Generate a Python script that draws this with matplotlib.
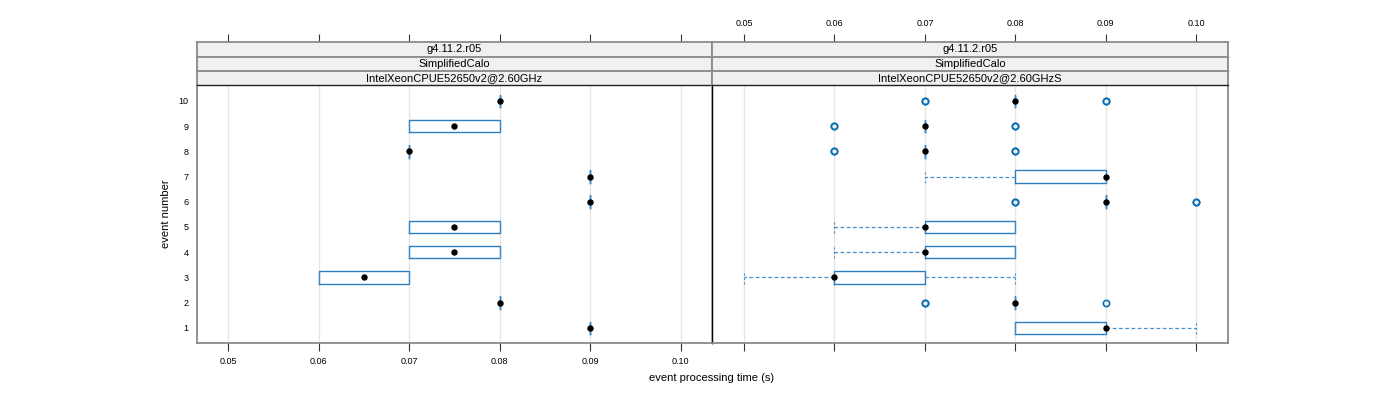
import matplotlib
matplotlib.use("Agg")
import matplotlib.pyplot as plt

plt.rcParams["font.family"] = ["Liberation Sans", "DejaVu Sans"]

# ---------------------------------------------------------------------------
# Data: per-event box statistics (events 1..10)
# ---------------------------------------------------------------------------
events = [1, 2, 3, 4, 5, 6, 7, 8, 9, 10]
strip_labels = ["g4.11.2.r05", "SimplifiedCalo"]
cpu_left = "IntelXeonCPUE52650v2@2.60GHz"
cpu_right = "IntelXeonCPUE52650v2@2.60GHzS"

# left panel
q1_left = [0.09, 0.08, 0.06, 0.07, 0.07, 0.09, 0.09, 0.07, 0.07, 0.08]
med_left = [0.09, 0.08, 0.065, 0.075, 0.075, 0.09, 0.09, 0.07, 0.075, 0.08]
q3_left = [0.09, 0.08, 0.07, 0.08, 0.08, 0.09, 0.09, 0.07, 0.08, 0.08]
lo_left = [0.09, 0.08, 0.06, 0.07, 0.07, 0.09, 0.09, 0.07, 0.07, 0.08]
hi_left = [0.09, 0.08, 0.07, 0.08, 0.08, 0.09, 0.09, 0.07, 0.08, 0.08]
out_left = [[], [], [], [], [], [], [], [], [], []]

# right panel
q1_right = [0.08, 0.08, 0.06, 0.07, 0.07, 0.09, 0.08, 0.07, 0.07, 0.08]
med_right = [0.09, 0.08, 0.06, 0.07, 0.07, 0.09, 0.09, 0.07, 0.07, 0.08]
q3_right = [0.09, 0.08, 0.07, 0.08, 0.08, 0.09, 0.09, 0.07, 0.07, 0.08]
lo_right = [0.08, 0.08, 0.05, 0.06, 0.06, 0.09, 0.07, 0.07, 0.07, 0.08]
hi_right = [0.10, 0.08, 0.08, 0.08, 0.08, 0.09, 0.09, 0.07, 0.07, 0.08]
out_right = [[], [0.07, 0.07, 0.09], [], [], [], [0.08, 0.08, 0.10, 0.10],
             [], [0.06, 0.06, 0.08, 0.08], [0.06, 0.06, 0.08, 0.08],
             [0.07, 0.07, 0.09, 0.09]]

x_ticks = [0.05, 0.06, 0.07, 0.08, 0.09, 0.10]
XLIM = (0.0465, 0.1035)
YLIM = (0.41, 10.62)

BLUE = "#2b7fc0"
FLIER = "#0a70b4"
FRAME = "#8a8a8a"

W, H = 1400, 400
fig = plt.figure(figsize=(14, 4), dpi=100)


def fx(px):
    return px / W


def fy(py):
    return 1 - py / H


panel_x = [(196.7, 712.3), (712.3, 1228.0)]
panel_top, panel_bot = 85.3, 342.7
strip_top = 42.3
strip_h = (panel_top - strip_top) / 3

panels = [
    (q1_left, med_left, q3_left, lo_left, hi_left, out_left, cpu_left),
    (q1_right, med_right, q3_right, lo_right, hi_right, out_right, cpu_right),
]

for i, (q1, med, q3, lo, hi, outs, cpu) in enumerate(panels):
    x0, x1 = panel_x[i]
    ax = fig.add_axes([fx(x0), fy(panel_bot), fx(x1 - x0), (panel_bot - panel_top) / H])
    stats = [dict(q1=a, med=m, q3=b, whislo=l, whishi=h, fliers=o)
             for a, m, b, l, h, o in zip(q1, med, q3, lo, hi, outs)]
    ax.bxp(stats, positions=events, widths=0.5, orientation="horizontal",
           capwidths=0.5, manage_ticks=False,
           boxprops=dict(color=BLUE, linewidth=1.0),
           whiskerprops=dict(color="#4a90cc", linewidth=0.9, linestyle=(0, (3, 2))),
           capprops=dict(color="#4a90cc", linewidth=0.8, linestyle=(0, (2, 2))),
           medianprops=dict(linewidth=0),
           flierprops=dict(marker="o", markerfacecolor="none",
                           markeredgecolor=FLIER, markersize=4.5,
                           markeredgewidth=1.2, linestyle="none"))
    ax.plot(med, events, "o", color="black", markersize=3.6, zorder=5)

    for xt in x_ticks:
        ax.axvline(xt, color="#e6e6e6", linewidth=1, zorder=0)

    ax.set_xlim(XLIM)
    ax.set_ylim(YLIM)
    ax.set_xticks(x_ticks)
    ax.set_xticklabels([f"{v:.2f}" for v in x_ticks], fontsize=6.5)
    ax.tick_params(axis="x", direction="out", length=6, width=0.8,
                   color="#333333", pad=4, labelbottom=(i == 0))
    ax.set_yticks(events)
    ax.set_yticklabels([str(e) for e in events], fontsize=6.5)
    ax.tick_params(axis="y", length=0, pad=6, labelleft=(i == 0))
    if i == 1:
        ax.tick_params(axis="y", left=False)
    for s in ax.spines.values():
        s.set_color(FRAME)
        s.set_linewidth(1.3)
    if i == 0:
        ax.spines["right"].set_color("black")
        ax.spines["right"].set_linewidth(1.0)
    else:
        ax.spines["left"].set_color("black")
        ax.spines["left"].set_linewidth(1.0)

    # strips
    labels = strip_labels + [cpu]
    for k, lab in enumerate(labels):
        top = strip_top + k * strip_h
        sax = fig.add_axes([fx(x0), fy(top + strip_h), fx(x1 - x0), strip_h / H])
        sax.set_facecolor("#f0f0f0")
        sax.set_xlim(XLIM)
        sax.set_yticks([])
        sax.text(0.5, 0.5, lab, transform=sax.transAxes, ha="center",
                 va="center", fontsize=8)
        for s in sax.spines.values():
            s.set_color(FRAME)
            s.set_linewidth(1.3)
        sax.spines["bottom"].set_color("#222222")
        sax.spines["bottom"].set_linewidth(1.0)
        if k == 0:
            sax.set_xticks(x_ticks)
            sax.xaxis.tick_top()
            sax.set_xticklabels([f"{v:.2f}" for v in x_ticks], fontsize=6.5)
            sax.tick_params(axis="x", direction="out", length=6, width=0.8,
                            color="#333333", pad=4, labeltop=(i == 1))
        else:
            sax.set_xticks([])

fig.text(fx(166), fy(214), "event number", rotation=90, ha="center",
         va="center", fontsize=8)
fig.text(fx(712), fy(378), "event processing time (s)", ha="center",
         va="center", fontsize=8)

fig.savefig("out.png", dpi=100)
